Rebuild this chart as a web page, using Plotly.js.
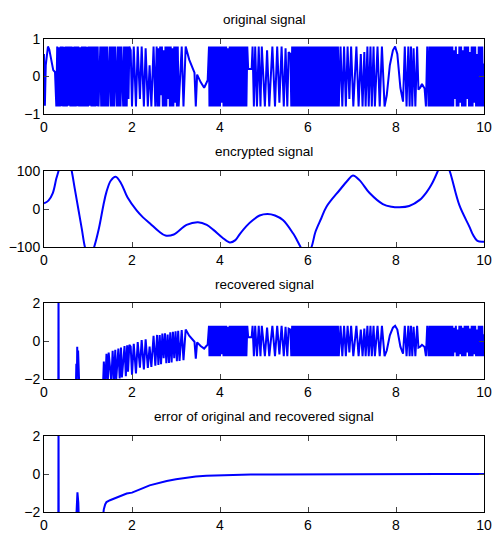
<!DOCTYPE html>
<html><head><meta charset="utf-8">
<script src="https://cdn.plot.ly/plotly-3.0.1.min.js"></script>
<style>html,body{margin:0;padding:0;background:#fff}</style>
</head><body><div id="chart" style="width:493px;height:538px"></div>
<script>
// ---------- data ----------
const panelTitles = ["original signal", "encrypted signal", "recovered signal", "error of original and recovered signal"];
const xTicks = [0, 2, 4, 6, 8, 10];
const yTicks1 = [-1, 0, 1];
const yTicks2 = [-100, 0, 100];
const yTicks3 = [-2, 0, 2];
const yTicks4 = [-2, 0, 2];

// original signal (turning points)
const origT = [
0,0.02,0.04,0.09,0.12,0.17,0.21,0.25,0.28,
0.30,0.32,0.34,0.36,0.38,0.40,0.42,0.44,0.46,0.48,0.50,0.52,0.54,0.56,0.58,0.60,0.62,0.64,0.66,0.68,
0.70,0.72,0.74,0.76,0.78,0.80,0.82,0.84,0.86,0.88,0.90,0.92,0.94,0.96,0.98,1.00,1.02,1.04,1.06,1.08,
1.10,1.12,1.14,1.16,1.18,1.20,1.22,1.24,
1.28,1.30,1.32,1.34,1.36,1.38,1.40,1.42,1.44,1.46,1.50,1.52,1.54,1.56,1.58,1.60,1.62,
1.66,1.68,1.70,1.72,1.74,1.76,1.80,1.82,1.84,1.86,1.88,1.90,1.92,1.94,1.97,2.0,
2.04,2.09,2.13,2.18,2.22,2.27,2.31,2.36,2.40,2.44,2.49,2.53,
2.56,2.58,2.60,2.62,2.64,2.66,2.68,2.70,2.72,2.74,2.76,2.78,2.80,2.82,2.84,2.86,2.88,2.90,2.92,2.94,2.96,2.98,3.00,3.02,3.04,3.06,
3.13,3.17,3.22,3.30,3.38,3.42,3.45,3.48,3.56,3.64,3.68,3.72,3.75,
3.76,3.78,3.80,3.82,3.84,3.86,3.88,3.90,3.92,3.94,3.96,3.98,4.00,4.02,4.04,4.06,4.08,4.10,4.12,4.14,
4.16,4.18,4.20,4.22,4.24,4.26,4.28,4.30,4.32,4.34,4.36,4.38,4.40,4.42,4.44,
4.46,4.48,4.50,4.52,4.54,4.56,4.58,4.60,4.62,4.64,4.72,4.74,4.77,4.80,4.84,4.88,4.92,
4.95,5.02,5.07,5.12,5.19,5.25,5.30,5.35,5.40,5.45,5.49,5.53,
5.56,5.60,
5.62,5.64,5.66,5.68,5.70,5.72,5.74,5.76,5.78,5.80,5.82,5.84,5.86,5.88,5.90,5.92,5.94,5.96,5.98,6.00,
6.02,6.04,6.06,6.08,6.10,6.12,6.14,6.16,6.18,6.20,6.22,6.24,6.26,6.28,6.30,6.32,6.34,6.36,6.38,6.40,
6.42,6.44,6.46,6.48,6.50,6.52,6.54,6.56,6.58,6.60,6.62,6.64,6.66,6.68,6.70,
6.74,6.78,6.82,6.86,6.90,6.94,6.98,7.03,7.10,7.15,7.20,7.24,7.28,7.31,7.35,7.38,7.42,7.45,7.49,7.52,
7.58,7.63,7.68,7.74,7.79,7.86,7.93,7.98,8.03,8.10,8.16,8.20,8.24,8.28,8.31,8.34,8.37,8.40,8.44,8.48,8.51,8.55,8.59,8.62,8.65,8.68,8.71,
8.74,8.76,8.78,8.80,8.82,8.84,8.86,8.88,8.90,8.92,8.94,8.96,8.98,9.00,9.02,9.04,9.06,9.08,9.10,9.12,
9.14,9.16,9.18,9.20,9.22,9.24,9.26,9.28,9.30,9.32,9.34,9.36,9.38,9.40,9.42,9.44,9.46,9.48,9.50,9.52,
9.54,9.56,9.58,9.60,9.62,9.64,9.66,9.68,9.70,9.72,9.74,9.76,9.78,9.80,9.82,9.84,9.86,9.88,9.90,9.92,
9.94,9.96,9.98,10.0
];
const origY = [
0.6,-0.78,0.3,0.8,0.72,0.42,0.17,0.12,-0.8,
0.8,-0.8,0.78,-0.8,0.8,-0.79,0.8,-0.8,0.79,-0.8,0.8,-0.8,0.8,-0.78,0.8,-0.8,0.8,-0.8,0.79,-0.8,
0.8,-0.8,0.8,-0.79,0.8,-0.8,0.78,-0.8,0.8,-0.8,0.8,-0.8,0.8,-0.8,0.79,-0.8,0.8,-0.78,0.8,-0.8,
0.8,-0.8,0.8,-0.8,0.8,-0.79,0.8,-0.8,
0.8,-0.8,0.8,-0.8,0.8,-0.8,0.8,-0.8,0.8,-0.8,0.8,-0.8,0.8,-0.8,0.8,-0.8,0.8,
-0.8,0.8,-0.8,0.8,-0.8,0.8,-0.8,0.8,-0.8,0.8,-0.8,0.8,-0.6,0.8,0.7,-0.8,
0.8,-0.8,0.8,-0.6,0.8,-0.8,0.75,-0.8,0.3,-0.8,0.8,-0.8,
0.8,-0.8,0.75,-0.8,0.8,-0.5,0.8,-0.8,0.7,-0.8,0.8,-0.8,0.8,-0.6,0.8,-0.8,0.8,-0.8,0.75,-0.8,0.8,-0.7,0.8,-0.8,0.8,-0.8,
0.8,-0.8,0.8,0.45,0.18,0.1,-0.8,0.05,-0.15,-0.3,-0.2,-0.1,0.8,
-0.8,0.8,-0.8,0.8,-0.8,0.8,-0.8,0.8,-0.8,0.8,-0.8,0.8,-0.8,0.8,-0.7,0.8,-0.8,0.8,-0.8,0.8,
-0.8,0.75,-0.8,0.8,-0.8,0.8,-0.8,0.8,-0.8,0.8,-0.8,0.8,-0.8,0.8,-0.8,
0.8,-0.8,0.8,-0.8,0.8,-0.8,0.8,-0.8,0.8,0.2,0.2,0.8,-0.8,0.8,-0.8,0.8,-0.8,
0.8,-0.8,0.7,-0.8,0.8,-0.8,0.8,-0.7,0.8,-0.8,0.75,-0.8,
0.65,0.6,
-0.8,0.8,-0.8,0.8,-0.8,0.8,-0.8,0.8,-0.8,0.8,-0.8,0.8,-0.8,0.8,-0.8,0.8,-0.8,0.8,-0.8,0.8,
-0.8,0.8,-0.8,0.8,-0.8,0.8,-0.8,0.8,-0.8,0.8,-0.8,0.8,-0.8,0.8,-0.8,0.8,-0.8,0.8,-0.8,0.8,
-0.8,0.8,-0.8,0.8,-0.8,0.8,-0.8,0.8,-0.8,0.8,-0.8,0.8,-0.8,0.8,-0.8,
0.8,-0.8,0.8,-0.8,0.8,-0.6,0.8,-0.8,0.8,-0.8,0.6,-0.8,0.65,-0.8,0.8,-0.8,0.8,-0.8,0.8,-0.8,
0.8,-0.8,0.8,-0.8,-0.5,0.3,0.7,0.8,0.6,-0.3,-0.67,0.8,-0.8,0.8,-0.8,0.8,-0.8,0.75,-0.8,0.8,-0.35,-0.3,-0.2,-0.28,-0.32,-0.8,0.8,
-0.8,0.8,-0.8,0.8,-0.8,0.8,-0.8,0.8,-0.8,0.8,-0.8,0.8,-0.8,0.8,-0.8,0.8,-0.8,0.8,-0.8,0.8,
-0.8,0.8,-0.8,0.8,-0.8,0.8,-0.8,0.8,-0.8,0.7,-0.6,0.8,-0.8,0.6,-0.8,0.8,-0.7,0.8,-0.8,0.7,
-0.8,0.8,-0.8,0.8,-0.6,0.8,-0.8,0.65,-0.8,0.8,-0.8,0.8,-0.7,0.8,-0.8,0.6,-0.8,0.8,-0.8,0.8,
-0.8,0.8,-0.8,0.35
];

// encrypted signal
const encT = [0,0.1,0.2,0.28,0.33,0.4,0.48,0.56,0.63,0.7,0.78,0.86,0.93,1.03,1.14,1.25,1.35,1.42,1.52,1.63,1.75,1.9,2.1,2.25,2.41,2.6,2.76,2.95,3.24,3.5,3.7,3.85,4.05,4.22,4.35,4.45,4.6,4.75,4.9,5.08,5.25,5.43,5.66,5.75,5.83,5.95,6.08,6.17,6.3,6.42,6.72,6.9,7.02,7.17,7.4,7.7,7.9,8.08,8.3,8.54,8.7,8.8,8.95,9.08,9.22,9.44,9.67,9.75,9.85,10];
const encY = [15,22,42,80,100,135,150,135,100,53,0,-53,-100,-135,-100,-50,10,45,75,85,68,30,-3,-22,-38,-58,-70,-67,-42,-35,-42,-55,-75,-88,-82,-66,-45,-29,-17,-13,-17,-29,-64,-82,-100,-130,-100,-60,-25,6,50,75,88,76,42,13,6,4.5,8,24,45,63,100,140,100,10,-47,-68,-84,-86];

// recovered signal, transient part (after t = 3.75 it follows the original)
const recT = [0,0.32,0.325,0.33,0.335,0.72,0.735,0.745,0.755,0.765,0.775,0.785,0.795,0.81,1.30,
1.33,1.36,1.39,1.42,1.45,1.47,1.53,1.56,1.59,1.62,1.64,1.69,1.72,1.75,1.77,1.83,1.86,1.89,1.91,1.94,1.97,2.0,
2.04,2.09,2.13,2.18,2.22,2.27,2.31,2.36,2.40,2.44,2.49,2.53,
2.57,2.60,2.63,2.66,2.69,2.72,2.75,2.78,2.81,2.84,2.87,2.90,2.93,2.96,2.99,3.02,3.05,3.08,
3.13,3.17,3.22,3.30,3.38,3.42,3.45,3.48,3.56,3.64,3.68,3.72];
const recY = [-3,-3,-3,3,-3,-3,-1.2,-2.6,-0.3,-1.8,-0.5,-2.4,-1.4,-3,-3,
-3.1,-1.08,-2.4,-0.67,-2.23,-0.61,-2.15,-0.52,-2.09,-0.46,-2.05,-0.4,-1.97,-0.34,-1.92,-0.27,-1.85,-0.23,-1.62,-0.2,-0.29,-1.78,
-0.15,-1.71,-0.06,-1.4,0.05,-1.5,0.09,-1.42,-0.29,-1.36,0.27,-1.3,
0.32,-1.26,0.31,-1.22,0.39,-0.9,0.41,-1.17,0.34,-1.15,0.46,-1.13,0.49,-0.9,0.51,-1.07,0.54,-1.05,
0.57,-1.01,0.6,0.28,0.03,-0.04,-0.93,-0.07,-0.26,-0.4,-0.29,-0.19];
const recJoinT = 3.75;

// error of original and recovered signal
const errT = [0,0.325,0.33,0.335,0.72,0.74,0.76,0.78,0.8,1.3,1.33,1.36,1.39,1.42,1.5,1.61,1.75,1.88,2.0,2.1,2.25,2.4,2.6,2.79,3.0,3.24,3.45,3.69,4.0,4.3,4.7,5.2,6,7,8,9,10];
const errY = [-3,-3,3,-3,-3,-1.5,-0.96,-1.5,-3,-3,-2.4,-1.85,-1.6,-1.48,-1.38,-1.27,-1.14,-1.03,-0.98,-0.9,-0.74,-0.6,-0.47,-0.37,-0.28,-0.19,-0.13,-0.09,-0.06,-0.04,-0.03,-0.02,-0.01,0,0,0,0];

// ---------- build ----------
const recFullT = recT.slice(), recFullY = recY.slice();
origT.forEach((t, i) => { if (t >= recJoinT) { recFullT.push(t); recFullY.push(origY[i]); } });

const FONT = "'Liberation Sans', Arial, Helvetica, sans-serif";
const BLUE = '#0000ff';
const line = {color: BLUE, width: 2};

const traces = [
  {x: origT, y: origY, xaxis: 'x', yaxis: 'y', mode: 'lines', line: line},
  {x: encT, y: encY, xaxis: 'x2', yaxis: 'y2', mode: 'lines', line: Object.assign({shape: 'spline', smoothing: 1}, line)},
  {x: recFullT, y: recFullY, xaxis: 'x3', yaxis: 'y3', mode: 'lines', line: line},
  {x: errT, y: errY, xaxis: 'x4', yaxis: 'y4', mode: 'lines', line: line}
];

const W = 493, H = 538;
const plotL = 44, plotR = 484;
const tops = [39, 171, 303, 436], bots = [114, 247, 379, 512];
const xdom = [plotL / W, plotR / W];
const yRanges = [[-1, 1], [-100, 100], [-2, 2], [-2, 2]];
const yTickSets = [yTicks1, yTicks2, yTicks3, yTicks4];

const common = {
  ticks: 'inside', ticklen: 5, tickwidth: 1, tickcolor: '#444',
  mirror: 'ticks', showline: true, linecolor: '#000', linewidth: 1,
  showgrid: false, zeroline: false, fixedrange: true,
  tickfont: {family: FONT, size: 14, color: '#000'}
};

const layout = {
  width: W, height: H, margin: {l: 0, r: 0, t: 0, b: 0},
  paper_bgcolor: '#fff', plot_bgcolor: '#fff', showlegend: false,
  annotations: []
};

for (let i = 0; i < 4; i++) {
  const sfx = i === 0 ? '' : String(i + 1);
  const ydom = [1 - bots[i] / H, 1 - tops[i] / H];
  layout['xaxis' + sfx] = Object.assign({}, common, {
    domain: xdom, range: [0, 10], tickmode: 'array', tickvals: xTicks,
    ticktext: xTicks.map(String), anchor: 'y' + sfx
  });
  layout['yaxis' + sfx] = Object.assign({}, common, {
    domain: ydom, range: yRanges[i], tickmode: 'array', tickvals: yTickSets[i],
    anchor: 'x' + sfx
  });
  layout.annotations.push({
    text: panelTitles[i], showarrow: false, xref: 'paper', yref: 'paper',
    x: (xdom[0] + xdom[1]) / 2, y: ydom[1], xanchor: 'center', yanchor: 'middle', yshift: 19,
    font: {family: FONT, size: 13.5, color: '#000'}
  });
}

Plotly.newPlot('chart', traces, layout, {displayModeBar: false, staticPlot: true});
</script></body></html>
